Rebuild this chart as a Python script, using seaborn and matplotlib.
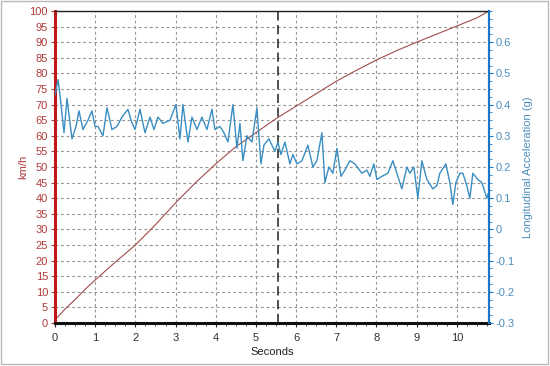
import numpy as np
import pandas as pd
import matplotlib
matplotlib.use("Agg")
import matplotlib.pyplot as plt
from matplotlib.ticker import MultipleLocator
from matplotlib.patches import Rectangle
import seaborn as sns

# ---- data ----
speed_t = [0.0, 0.25, 0.5, 0.75, 1.0, 1.5, 2.0, 2.5, 3.0, 3.5, 4.0, 4.5, 5.0, 5.5,
           6.0, 6.5, 7.0, 7.5, 8.0, 8.5, 9.0, 9.5, 10.0, 10.5, 10.8]
speed_kmh = [1.0, 4.5, 7.5, 10.8, 13.8, 19.5, 25.0, 31.5, 38.5, 45.0, 51.0, 56.5, 61.0, 65.5,
             69.5, 73.5, 77.5, 81.0, 84.3, 87.3, 90.0, 92.6, 95.2, 97.8, 100.0]

accel_px = [55, 58, 60, 64, 67, 72, 76, 79, 83, 88, 92, 95, 98, 103, 107, 112, 117, 122,
            128, 131, 135, 140, 145, 150, 154, 158, 163, 170, 176, 180, 183, 188, 192, 197,
            202, 207, 212, 215, 220, 224, 228, 233, 237, 240, 243, 247, 252, 257, 261, 264,
            269, 275, 278, 281, 285, 290, 293, 297, 302, 308, 313, 317, 322, 325, 329, 333,
            337, 341, 345, 350, 355, 362, 367, 370, 374, 377, 382, 388, 393, 398, 402, 407,
            410, 414, 418, 422, 427, 433, 437, 440, 446, 450, 453, 456, 460, 463, 467, 470,
            473, 478, 482, 485, 487, 489]
accel_g = [0.43, 0.48, 0.43, 0.31, 0.42, 0.29, 0.33, 0.38, 0.32, 0.35, 0.38, 0.33, 0.33,
           0.30, 0.39, 0.32, 0.33, 0.36, 0.385, 0.35, 0.32, 0.385, 0.31, 0.36, 0.32, 0.36,
           0.34, 0.35, 0.40, 0.29, 0.40, 0.28, 0.36, 0.32, 0.36, 0.32, 0.385, 0.32, 0.33,
           0.31, 0.28, 0.40, 0.26, 0.34, 0.22, 0.30, 0.28, 0.39, 0.21, 0.27, 0.29, 0.25,
           0.28, 0.24, 0.28, 0.21, 0.24, 0.21, 0.22, 0.27, 0.20, 0.22, 0.31, 0.15, 0.20,
           0.18, 0.26, 0.17, 0.19, 0.22, 0.21, 0.18, 0.19, 0.17, 0.21, 0.16, 0.17, 0.18,
           0.22, 0.17, 0.13, 0.20, 0.18, 0.20, 0.10, 0.22, 0.16, 0.13, 0.14, 0.18, 0.21,
           0.15, 0.08, 0.15, 0.18, 0.18, 0.14, 0.10, 0.18, 0.16, 0.15, 0.12, 0.10, 0.12]
# convert the horizontal pixel readings of the acceleration trace to seconds
accel_t = [(p - 55) / 40.2 for p in accel_px]

marker_t = 5.55
x_ticks = list(range(0, 11))
left_ticks = list(range(0, 101, 5))
right_ticks = [-0.3, -0.2, -0.1, 0.0, 0.1, 0.2, 0.3, 0.4, 0.5, 0.6]

speed_df = pd.DataFrame({"t": speed_t, "v": speed_kmh})
accel_df = pd.DataFrame({"t": accel_t, "g": accel_g})

# ---- style ----
sns.set_style("white")
plt.rcParams["font.family"] = ["Liberation Sans", "DejaVu Sans"]
plt.rcParams["font.size"] = 8

RED = "#c01818"
RED_TXT = "#b03a3a"
BLUE = "#1a78c8"
BLUE_TXT = "#4a8dbd"
SPEED_C = "#a04c4c"
ACC_C = "#3a8ec2"

fig = plt.figure(figsize=(5.5, 3.66), dpi=100)
ax = fig.add_axes([55 / 550, 1 - 323 / 366, (489 - 55) / 550, (323 - 11) / 366])
ax2 = ax.twinx()

sns.lineplot(data=speed_df, x="t", y="v", ax=ax, color=SPEED_C, linewidth=0.8)
sns.lineplot(data=accel_df, x="t", y="g", ax=ax2, color=ACC_C, linewidth=1.0)

ax.set_xlim(0, 10.8)
ax.set_ylim(0, 100)
ax2.set_ylim(-0.3, 0.7)

ax.set_xticks(x_ticks)
ax.set_yticks(left_ticks)
ax2.set_yticks(right_ticks)
ax2.set_yticklabels([f"{v:g}" for v in right_ticks])
ax.xaxis.set_minor_locator(MultipleLocator(0.25))
ax2.yaxis.set_minor_locator(MultipleLocator(0.025))

ax.grid(True, which="major", color="#959595", linestyle=(0, (2.5, 2.5)), linewidth=0.8)
ax.set_axisbelow(True)

ax.axvline(marker_t, color="#202020", linestyle=(0, (6, 3)), linewidth=1.1, zorder=1)

for s in ["top", "right", "left", "bottom"]:
    ax.spines[s].set_visible(True)
    ax2.spines[s].set_visible(False)
ax.spines["top"].set_color("#202020")
ax.spines["top"].set_linewidth(1.0)
ax.spines["right"].set_visible(False)
ax.spines["left"].set_color(RED)
ax.spines["left"].set_linewidth(2.2)
ax.spines["bottom"].set_color("#101010")
ax.spines["bottom"].set_linewidth(2.2)
ax2.spines["right"].set_visible(True)
ax2.spines["right"].set_color(BLUE)
ax2.spines["right"].set_linewidth(1.6)

ax.tick_params(axis="y", colors=RED_TXT, labelcolor=RED_TXT, length=3, width=0.8,
               labelsize=8, pad=2, left=True)
ax.tick_params(axis="x", colors="#202020", labelcolor="#303030", length=3, width=0.8,
               labelsize=8, pad=4, bottom=True)
ax.tick_params(axis="x", which="minor", length=2, width=0.6, bottom=True)
ax2.tick_params(axis="y", colors=BLUE, labelcolor=BLUE_TXT, length=3, width=0.8,
                labelsize=8, pad=2, right=True)
ax2.tick_params(axis="y", which="minor", length=2, width=0.6, right=True, colors=BLUE)

ax.set_xlabel("Seconds", color="#202020", fontsize=8, labelpad=3)
ax.set_ylabel("km/h", color=RED_TXT, fontsize=8, labelpad=1)
ax2.set_ylabel("Longitudinal Acceleration (g)", color=BLUE_TXT, fontsize=8, labelpad=6)

fig.patches.append(Rectangle((0.002, 0.006), 0.995, 0.99, transform=fig.transFigure,
                             fill=False, edgecolor="#b8b8b8", linewidth=1.0))

fig.savefig("out.png", dpi=100)
